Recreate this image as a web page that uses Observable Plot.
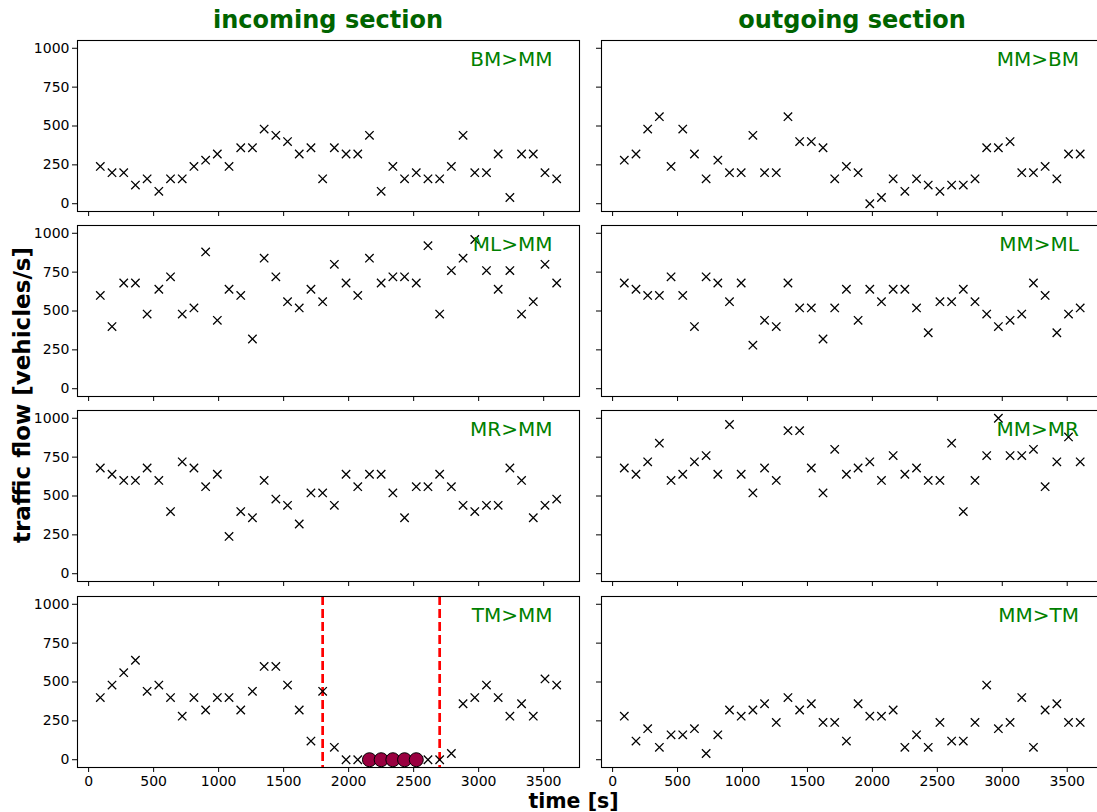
<!DOCTYPE html>
<html>
<head>
<meta charset="utf-8">
<script src="https://cdn.jsdelivr.net/npm/d3@7"></script>
<script src="https://cdn.jsdelivr.net/npm/@observablehq/plot@0.6"></script>
<style>
  html, body { margin: 0; padding: 0; background: #fff; overflow: hidden; }
  #fig { position: relative; width: 1097px; height: 812px; overflow: hidden; font-family: "DejaVu Sans", sans-serif; }
  .abs { position: absolute; white-space: nowrap; }
  .title { font-size: 24px; line-height: 24px; font-weight: bold; color: #006400; transform: translateX(-50%); }
  .axlab { font-weight: bold; color: #000; }
</style>
</head>
<body>
<div id="fig"></div>
<script>
const times = [90,180,270,360,450,540,630,720,810,900,990,1080,1170,1260,1350,1440,1530,1620,1710,1800,1890,1980,2070,2160,2250,2340,2430,2520,2610,2700,2790,2880,2970,3060,3150,3240,3330,3420,3510,3600];

const bmMm = [240,200,200,120,160,80,160,160,240,280,320,240,360,360,480,440,400,320,360,160,360,320,320,440,80,240,160,200,160,160,240,440,200,200,320,40,320,320,200,160];
const mmBm = [280,320,480,560,240,480,320,160,280,200,200,440,200,200,560,400,400,360,160,240,200,0,40,160,80,160,120,80,120,120,160,360,360,400,200,200,240,160,320,320];
const mlMm = [600,400,680,680,480,640,720,480,520,880,440,640,600,320,840,720,560,520,640,560,800,680,600,840,680,720,720,680,920,480,760,840,960,760,640,760,480,560,800,680];
const mmMl = [680,640,600,600,720,600,400,720,680,560,680,280,440,400,680,520,520,320,520,640,440,640,560,640,640,520,360,560,560,640,560,480,400,440,480,680,600,360,480,520];
const mrMm = [680,640,600,600,680,600,400,720,680,560,640,240,400,360,600,480,440,320,520,520,440,640,560,640,640,520,360,560,560,640,560,440,400,440,440,680,600,360,440,480];
const mmMr = [680,640,720,840,600,640,720,760,640,960,640,520,680,600,920,920,680,520,800,640,680,720,600,760,640,680,600,600,840,400,600,760,1000,760,760,800,560,720,880,720];
const tmMm = [400,480,560,640,440,480,400,280,400,320,400,400,320,440,600,600,480,320,120,440,80,0,0,0,0,0,0,0,0,0,40,360,400,480,400,280,360,280,520,480];
const mmTm = [280,120,200,80,160,160,200,40,160,320,280,320,360,240,400,320,360,240,240,120,360,280,280,320,80,160,80,240,120,120,240,480,200,240,400,80,320,360,240,240];

const blockedTimes = [2160,2250,2340,2430,2520];
const blockedValues = [0,0,0,0,0];
const disruptionBounds = [1800,2700];

const xTicks = [0,500,1000,1500,2000,2500,3000,3500];
const yTicks = [0,250,500,750,1000];

const columnTitles = ["incoming section","outgoing section"];
const panelLabels = [["BM>MM","MM>BM"],["ML>MM","MM>ML"],["MR>MM","MM>MR"],["TM>MM","MM>TM"]];
const panelSeries = [[bmMm,mmBm],[mlMm,mmMl],[mrMm,mmMr],[tmMm,mmTm]];

const fig = document.getElementById("fig");
const frameTops = [39.5, 224.5, 410, 595.5];
const frameH = 171;

for (let r = 0; r < 4; r++) {
  for (let c = 0; c < 2; c++) {
    const isLeft = c === 0, isBottom = r === 3;
    const mL = isLeft ? 77 : 21;
    const frameW = isLeft ? 502 : 501.5;
    const mT = 4, mR = 3, mB = isBottom ? 26 : 10;
    const values = panelSeries[r][c];
    const data = times.map((t, i) => ({t, v: values[i]}));
    const marks = [
      Plot.axisX({ticks: xTicks, tickSize: 5, tickPadding: 4, label: null, fontSize: 14,
        tickFormat: isBottom ? (d => String(d)) : (() => "")}),
      Plot.axisY({ticks: yTicks, tickSize: 5, tickPadding: 3, label: null, fontSize: 14,
        tickFormat: isLeft ? (d => String(d)) : (() => "")})
    ];
    if (r === 3 && c === 0) {
      marks.push(Plot.ruleX(disruptionBounds, {stroke: "#ff0000", strokeWidth: 2.7, strokeDasharray: "9,4"}));
    }
    marks.push(Plot.dot(data, {x: "t", y: "v", symbol: "times", r: 3.9, stroke: "#000", strokeWidth: 1.3}));
    if (r === 3 && c === 0) {
      const blocked = blockedTimes.map((t, i) => ({t, v: blockedValues[i]}));
      marks.push(Plot.dot(blocked, {x: "t", y: "v", r: 7, fill: "#990040", stroke: "#000", strokeWidth: 1}));
    }
    marks.push(Plot.text([panelLabels[r][c]], {text: d => d, frameAnchor: "top-right", textAnchor: "end", lineAnchor: "top",
      dx: isLeft ? -27 : -24, dy: 11.2, fill: "#008000", fontSize: 20}));
    marks.push(Plot.frame({stroke: "#000", strokeWidth: 1.1}));

    const plot = Plot.plot({
      width: mL + frameW + mR,
      height: mT + frameH + mB,
      marginLeft: mL, marginRight: mR, marginTop: mT, marginBottom: mB,
      x: {domain: [-85.5, 3775.5]},
      y: {domain: [-50, 1050]},
      style: {fontFamily: "'DejaVu Sans', sans-serif", fontSize: "14px", color: "#000", background: "transparent", overflow: "visible"},
      marks
    });
    plot.style.position = "absolute";
    plot.style.left = (isLeft ? 0 : 580) + "px";
    plot.style.top = (frameTops[r] - mT) + "px";
    fig.appendChild(plot);
  }
}

function addDiv(text, cls, css) {
  const d = document.createElement("div");
  d.className = "abs " + cls;
  d.textContent = text;
  Object.assign(d.style, css);
  fig.appendChild(d);
  return d;
}
addDiv(columnTitles[0], "title", {left: "328px", top: "7.7px"});
addDiv(columnTitles[1], "title", {left: "852px", top: "7.7px"});
addDiv("time [s]", "axlab", {left: "573.5px", top: "794px", fontSize: "20.5px", lineHeight: "14px", transform: "translateX(-50%)"});
addDiv("traffic flow [vehicles/s]", "axlab", {left: "22px", top: "395px", fontSize: "23px", lineHeight: "23px", transform: "translate(-50%,-50%) rotate(-90deg)"});
</script>
</body>
</html>
